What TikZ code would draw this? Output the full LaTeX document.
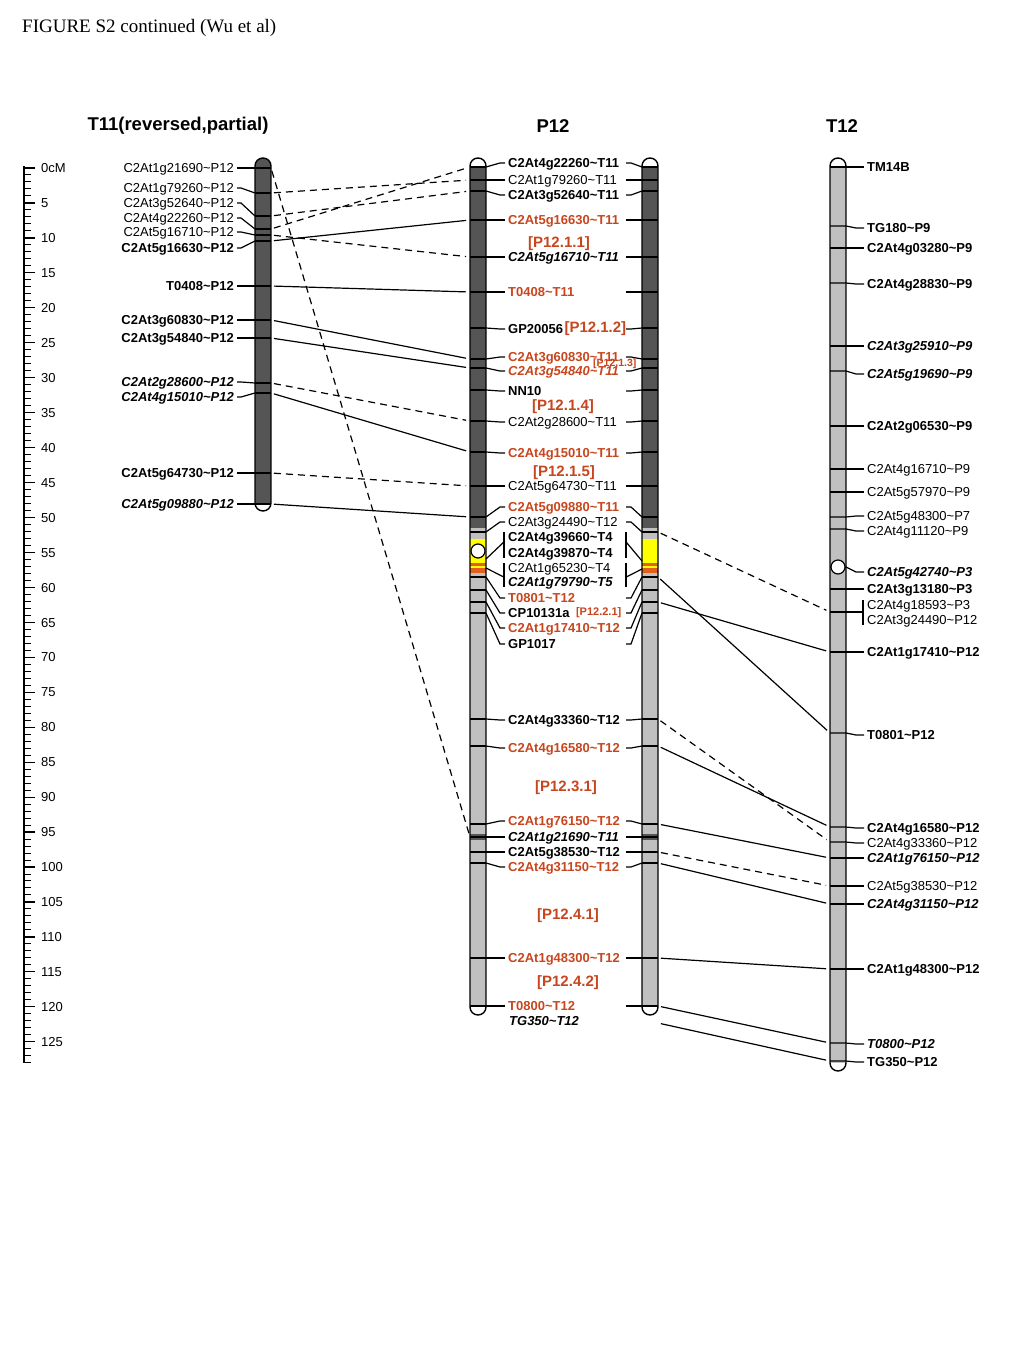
\documentclass[tikz,border=0pt]{standalone}
\usepackage{fontspec}
\setmainfont{Liberation Sans}
\newfontfamily\figtitlefont{Liberation Serif}
\usetikzlibrary{positioning}
\definecolor{chrdark}{HTML}{555555}
\definecolor{chrlight}{HTML}{C0C0C0}
\definecolor{markred}{HTML}{C8461E}
\definecolor{cenyellow}{HTML}{FFFF00}
\definecolor{bandorange}{HTML}{E2601C}
\newcommand\tild{\textasciitilde}
\tikzset{
  % marker labels: plain, bold, bold italic, red
  lab/.style={font=\fontsize{13}{13}\selectfont, inner sep=0pt, text height=9.3pt, text depth=0pt},
  mn/.style={lab},
  mb/.style={lab, font=\fontsize{13}{13}\selectfont\bfseries},
  mi/.style={lab, font=\fontsize{13}{13}\selectfont\bfseries\itshape},
  rb/.style={mb, text=markred},
  ri/.style={mi, text=markred},
  region/.style={font=\fontsize{15}{15}\selectfont\bfseries, text=markred, inner sep=0pt},
  colhead/.style={font=\fontsize{18.5}{18.5}\selectfont\bfseries, inner sep=0pt},
  mtick/.style={line width=1.2pt},
  chr/.style={line width=1.4pt, rounded corners=8pt},
  link/.style={line width=1.2pt, shorten <=3pt, shorten >=4pt},
  dlink/.style={link, dash pattern=on 7pt off 5pt}
}

\begin{document}
\begin{tikzpicture}[x=1pt, y=-1pt]
\useasboundingbox (0,0) rectangle (1024,1365);
\fill[white] (0,0) rectangle (1024,1365);

% Title and column heads
\node[anchor=west, inner sep=0pt, font=\figtitlefont\fontsize{19}{19}\selectfont] (title) at (22,28) {FIGURE S2 continued (Wu et al)};
\node[colhead] (hT11) at (178,126) {T11(reversed,partial)};
\node[colhead] (hP12) at (553,126) {P12};
\node[colhead] (hT12) at (842,126) {T12};

% cM ruler
\def\cmY{168}
\def\cmS{6.99}
\draw[line width=1.5pt] (24,166) -- (24,1063);
\foreach \c in {0,...,128}
  \draw[line width=1pt] (24,{\cmY+\cmS*\c}) -- (31,{\cmY+\cmS*\c});
\foreach \c in {0,5,...,125} {
  \draw[mtick] (24,{\cmY+\cmS*\c}) -- (35,{\cmY+\cmS*\c});
  \node[mn, anchor=west] (cm\c) at (41,{\cmY+\cmS*\c}) {\ifnum\c=0 0cM\else\c\fi};
}

% Chromosome bodies (drawn first)
\begin{scope}
  \clip[rounded corners=8pt] (255,158) rectangle (271,511);
  \fill[chrdark] (255,150) rectangle (271,503);
\end{scope}
\draw[chr] (255,158) rectangle (271,511);

\foreach \cx in {470,642} {
  \begin{scope}
    \clip[rounded corners=8pt] (\cx,158) rectangle (\cx+16,1015);
    \fill[chrdark] (\cx,166) rectangle (\cx+16,528);
    \fill[chrlight] (\cx,528) rectangle (\cx+16,539);
    \fill[cenyellow] (\cx,539) rectangle (\cx+16,563);
    \fill[bandorange] (\cx,563) rectangle (\cx+16,573);
    \fill[cenyellow] (\cx,566) rectangle (\cx+16,568);
    \fill[chrlight] (\cx,573) rectangle (\cx+16,1007);
    \fill[chrdark] (\cx,834) rectangle (\cx+16,840);
  \end{scope}
  \draw[chr] (\cx,158) rectangle (\cx+16,1015);
}

\begin{scope}
  \clip[rounded corners=8pt] (830,158) rectangle (846,1071);
  \fill[chrlight] (830,166) rectangle (846,1063);
\end{scope}
\draw[chr] (830,158) rectangle (846,1071);

% T11 markers
\foreach \n/\ty/\ly/\st/\txt in {
  1/168/168/mn/C2At1g21690\tild P12,
  2/193/188/mn/C2At1g79260\tild P12,
  3/216/203/mn/C2At3g52640\tild P12,
  4/229/218/mn/C2At4g22260\tild P12,
  5/235/232/mn/C2At5g16710\tild P12,
  6/241/248/mb/C2At5g16630\tild P12,
  7/286/286/mb/T0408\tild P12,
  8/320/320/mb/C2At3g60830\tild P12,
  9/338/338/mb/C2At3g54840\tild P12,
  10/383/382/mi/C2At2g28600\tild P12,
  11/393/397/mi/C2At4g15010\tild P12,
  12/473/473/mb/C2At5g64730\tild P12,
  13/504/504/mi/C2At5g09880\tild P12}{
  \coordinate (ta\n) at (255,\ty);
  \coordinate (tb\n) at (271,\ty);
  \node[\st, anchor=east] (t\n) at (234,\ly) {\txt};
  \draw[mtick] (ta\n) -- (tb\n);
  \draw[mtick] (t\n.east) ++(3,0) -- ++(4,0) -- (ta\n);
}

% P12 markers (left and right copy)
\coordinate (rcol) at (626,0);
\foreach \n/\ty/\ly/\st/\txt in {
  1/167/163/mb/C2At4g22260\tild T11,
  2/180/180/mn/C2At1g79260\tild T11,
  3/191/195/mb/C2At3g52640\tild T11,
  4/220/220/rb/C2At5g16630\tild T11,
  5/257/257/mi/C2At5g16710\tild T11,
  6/292/292/rb/T0408\tild T11,
  7/328/329/mb/GP20056,
  8/359/357/rb/C2At3g60830\tild T11,
  9/368/371/ri/C2At3g54840\tild T11,
  10/390/391/mb/NN10,
  11/421/422/mn/C2At2g28600\tild T11,
  12/452/453/rb/C2At4g15010\tild T11,
  13/486/486/mn/C2At5g64730\tild T11,
  14/517/507/rb/C2At5g09880\tild T11,
  15/532/522/mn/C2At3g24490\tild T12,
  16/577/598/rb/T0801\tild T12,
  17/590/613/mb/CP10131a,
  18/602/628/rb/C2At1g17410\tild T12,
  19/613/644/mb/GP1017,
  20/719/720/mb/C2At4g33360\tild T12,
  21/746/748/rb/C2At4g16580\tild T12,
  22/824/821/rb/C2At1g76150\tild T12,
  23/837/837/mi/C2At1g21690\tild T11,
  24/852/852/mb/C2At5g38530\tild T12,
  25/863/867/rb/C2At4g31150\tild T12,
  26/958/958/rb/C2At1g48300\tild T12,
  27/1006/1006/rb/T0800\tild T12}{
  \coordinate (pa\n) at (470,\ty);
  \coordinate (pb\n) at (486,\ty);
  \coordinate (qa\n) at (642,\ty);
  \coordinate (qb\n) at (658,\ty);
  \node[\st, anchor=west] (p\n) at (508,\ly) {\txt};
  \draw[mtick] (pa\n) -- (pb\n);
  \draw[mtick] (qa\n) -- (qb\n);
  \draw[mtick] (p\n.west) ++(-3,0) -- ++(-5,0) -- (pb\n);
  \draw[mtick] (p\n.west -| rcol) -- ++(5,0) -- (qa\n);
}
\node[mi, anchor=west] (pTG) at (509,1021) {TG350\tild T12};

% P12 marker groups with brackets
\node[mb, anchor=west] (g1) at (508,537) {C2At4g39660\tild T4};
\node[mb, anchor=west] (g2) at (508,553) {C2At4g39870\tild T4};
\node[mn, anchor=west] (g3) at (508,568) {C2At1g65230\tild T4};
\node[mi, anchor=west] (g4) at (508,582) {C2At1g79790\tild T5};
\coordinate (gA1) at (486,559);
\coordinate (gA2) at (642,561);
\coordinate (gB1) at (486,568);
\coordinate (gB2) at (642,569);
\draw[mtick] ([xshift=-4pt]g1.north west) -- ([xshift=-4pt]g2.south west);
\draw[mtick] ([xshift=-4pt]g3.north west) -- ([xshift=-4pt]g4.south west);
\draw[mtick] (g1.north west -| rcol) -- (g2.south west -| rcol);
\draw[mtick] (g3.north west -| rcol) -- (g4.south west -| rcol);
\draw[mtick] (gA1) -- ([xshift=-4pt]g1.south west);
\draw[mtick] (gB1) -- ([xshift=-4pt]g4.north west);
\draw[mtick] (gA2) -- (g1.south west -| rcol);
\draw[mtick] (gB2) -- (g4.north west -| rcol);

% P12 region labels
\node[region] (r111) at (559,244) {[P12.1.1]};
\node[region, right=1pt of p7] (r112) {[P12.1.2]};
\node[region, font=\fontsize{10.5}{10.5}\selectfont\bfseries, anchor=west] (r113) at (593,364) {[P12.1.3]};
\node[region] (r114) at (563,407) {[P12.1.4]};
\node[region] (r115) at (564,473) {[P12.1.5]};
\node[region, font=\fontsize{11}{11}\selectfont\bfseries, right=6pt of p17] (r221) {[P12.2.1]};
\node[region] (r231) at (566,788) {[P12.3.1]};
\node[region] (r241) at (568,916) {[P12.4.1]};
\node[region] (r242) at (568,983) {[P12.4.2]};

% T12 markers
\foreach \n/\ty/\ly/\st/\txt in {
  1/167/167/mb/TM14B,
  2/226/228/mb/TG180\tild P9,
  3/248/248/mb/C2At4g03280\tild P9,
  4/283/284/mb/C2At4g28830\tild P9,
  5/346/346/mi/C2At3g25910\tild P9,
  6/371/374/mi/C2At5g19690\tild P9,
  7/426/426/mb/C2At2g06530\tild P9,
  8/469/469/mn/C2At4g16710\tild P9,
  9/492/492/mn/C2At5g57970\tild P9,
  10/517/516/mn/C2At5g48300\tild P7,
  11/529/531/mn/C2At4g11120\tild P9,
  12/567/572/mi/C2At5g42740\tild P3,
  13/589/589/mb/C2At3g13180\tild P3,
  14/652/652/mb/C2At1g17410\tild P12,
  15/733/735/mb/T0801\tild P12,
  16/827/828/mb/C2At4g16580\tild P12,
  17/842/843/mn/C2At4g33360\tild P12,
  18/858/858/mi/C2At1g76150\tild P12,
  19/886/886/mn/C2At5g38530\tild P12,
  20/904/904/mi/C2At4g31150\tild P12,
  21/969/969/mb/C2At1g48300\tild P12,
  22/1043/1044/mi/T0800\tild P12,
  23/1061/1062/mb/TG350\tild P12}{
  \coordinate (ra\n) at (830,\ty);
  \coordinate (rb\n) at (846,\ty);
  \node[\st, anchor=west] (r\n) at (867,\ly) {\txt};
  \draw[mtick] (r\n.west) ++(-3,0) -- ++(-8,0) -- (rb\n) -- (ra\n);
}
\node[mn, anchor=west] (rg1) at (867,605) {C2At4g18593\tild P3};
\node[mn, anchor=west] (rg2) at (867,620) {C2At3g24490\tild P12};
\coordinate (rabr) at (830,612);
\draw[mtick] ([xshift=-4pt]rg1.north west) -- ([xshift=-4pt]rg2.south west);
\draw[mtick] (rabr) -- ([xshift=-4pt]rabr -| rg1.west);

% Centromere circles (on top of ticks)
\draw[line width=1.2pt, fill=white] (478,551) circle (7pt);
\draw[line width=1.2pt, fill=white] (838,567) circle (7pt);

% T11 -> P12 links
\foreach \f/\t/\ls in {1/23/dlink, 2/2/dlink, 3/3/dlink, 4/1/dlink, 5/5/dlink,
    6/4/link, 7/6/link, 8/8/link, 9/9/link, 10/11/dlink, 11/12/link,
    12/13/dlink, 13/14/link}
  \draw[\ls] (tb\f) -- (pa\t);

% P12 -> T12 links
\coordinate (tgfree) at (658,1023);
\draw[dlink] (qb15) -- (rabr);
\foreach \f/\t/\ls in {16/15/link, 18/14/link, 20/17/dlink, 21/16/link,
    22/18/link, 24/19/dlink, 25/20/link, 26/21/link, 27/22/link}
  \draw[\ls] (qb\f) -- (ra\t);
\draw[link] (tgfree) -- (ra23);

\end{tikzpicture}
\end{document}
